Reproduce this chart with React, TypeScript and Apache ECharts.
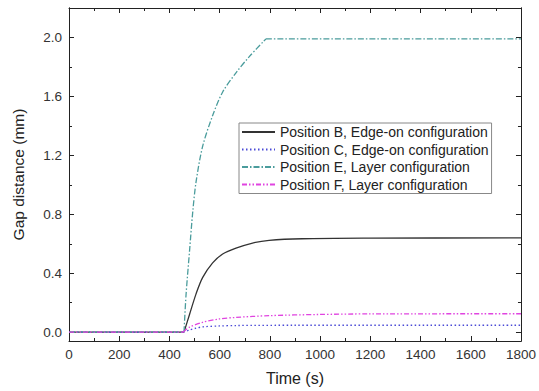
import React, { useEffect, useRef } from "react";
import * as echarts from "echarts";

const xTickLabels = [0, 200, 400, 600, 800, 1000, 1200, 1400, 1600, 1800];
const yMajorTicks = [0, 0.4, 0.8, 1.2, 1.6, 2.0];
const yMinorTicks = [0.2, 0.6, 1.0, 1.4, 1.8];

const seriesNames = [
  "Position B, Edge-on configuration",
  "Position C, Edge-on configuration",
  "Position E, Layer configuration",
  "Position F, Layer configuration",
];

const timeB = [0, 458, 480, 506, 532, 572, 612, 665, 731, 797, 929, 1193, 1800];
const gapB = [0, 0, 0.12, 0.26, 0.37, 0.47, 0.53, 0.57, 0.605, 0.623, 0.634, 0.638, 0.64];

const timeC = [0, 455, 480, 506, 532, 600, 665, 900, 1800];
const gapC = [0, 0, 0.015, 0.027, 0.036, 0.042, 0.045, 0.047, 0.047];

const timeE = [0, 458, 466, 480, 493, 506, 532, 572, 612, 665, 718, 784, 1800];
const gapE = [0, 0, 0.25, 0.55, 0.82, 1.02, 1.26, 1.47, 1.63, 1.76, 1.87, 1.99, 1.99];

const timeF = [0, 455, 480, 532, 599, 665, 797, 995, 1193, 1800];
const gapF = [0, 0, 0.034, 0.067, 0.09, 0.1, 0.112, 0.12, 0.124, 0.125];

// index where the rise begins and where it ends (sharp corners)
const riseB = [1, timeB.length - 1];
const riseC = [1, timeC.length - 1];
const riseE = [1, 11];
const riseF = [1, timeF.length - 1];

const pairs = (t: number[], v: number[]) => t.map((x, i) => [x, v[i]]);

export default function App() {
  const ref = useRef<HTMLDivElement>(null);
  useEffect(() => {
    if (!ref.current) return;
    const chart = echarts.init(ref.current, undefined, { renderer: "svg" });
    const font = "'Liberation Sans', Arial, sans-serif";
    const axisColor = "#222";
    const yBase = {
      type: "value",
      min: -0.06,
      max: 2.2,
      splitLine: { show: false },
      axisLine: { show: true, lineStyle: { color: axisColor, width: 1 } },
    };
    const xBase = {
      type: "value",
      min: 0,
      max: 1800,
      interval: 200,
      splitLine: { show: false },
      axisLine: { show: true, onZero: false, lineStyle: { color: axisColor, width: 1 } },
      axisTick: { show: true, inside: true, length: 5, lineStyle: { color: axisColor } },
      minorTick: { show: true, splitNumber: 2, length: 3, lineStyle: { color: axisColor } },
    };
    const build = (
      name: string,
      t: number[],
      v: number[],
      rise: number[],
      color: string,
      type: any,
      width: number
    ) => {
      const all = pairs(t, v);
      const parts = [
        { data: all.slice(0, rise[0] + 1), smooth: false },
        { data: all.slice(rise[0], rise[1] + 1), smooth: 0.3 },
        { data: all.slice(rise[1]), smooth: false },
      ].filter((p) => p.data.length > 1);
      return parts.map((p) => ({
        name,
        type: "line",
        data: p.data,
        symbol: "none",
        smooth: p.smooth,
        lineStyle: { color, type, width },
        itemStyle: { color },
      }));
    };
    chart.setOption({
      animation: false,
      backgroundColor: "#fff",
      grid: { left: 69, right: 16, top: 8, bottom: 47 },
      legend: {
        orient: "vertical",
        left: 239,
        top: 123,
        padding: [2, 3, 2, 2],
        itemWidth: 33,
        itemHeight: 14,
        itemGap: 3.5,
        itemStyle: { opacity: 0 },
        backgroundColor: "#fff",
        borderColor: "#888",
        borderWidth: 1,
        borderRadius: 0,
        textStyle: { fontFamily: font, fontSize: 14, color: "#222" },
        data: seriesNames,
      },
      xAxis: [
        {
          ...xBase,
          position: "bottom",
          name: "Time (s)",
          nameLocation: "middle",
          nameGap: 29,
          nameTextStyle: { fontFamily: font, fontSize: 16, color: "#222" },
          axisLabel: {
            show: true,
            margin: 6,
            fontFamily: font,
            fontSize: 13.5,
            color: "#333",
            formatter: (v: number) => (xTickLabels.includes(v) ? String(v) : ""),
          },
        },
        {
          ...xBase,
          position: "top",
          axisLabel: { show: false },
        },
      ],
      yAxis: [
        {
          ...yBase,
          position: "left",
          name: "Gap distance (mm)",
          nameLocation: "middle",
          nameGap: 43,
          nameTextStyle: { fontFamily: font, fontSize: 15.5, color: "#222" },
          axisTick: {
            show: true,
            inside: true,
            length: 5,
            customValues: yMajorTicks,
            lineStyle: { color: axisColor },
          },
          axisLabel: {
            show: true,
            margin: 7,
            fontFamily: font,
            fontSize: 13.5,
            color: "#333",
            customValues: yMajorTicks,
            formatter: (v: number) => v.toFixed(1),
          },
        },
        {
          ...yBase,
          position: "left",
          axisTick: {
            show: true,
            inside: true,
            length: 3,
            customValues: yMinorTicks,
            lineStyle: { color: axisColor },
          },
          axisLabel: { show: false },
        },
        {
          ...yBase,
          position: "right",
          axisTick: {
            show: true,
            inside: true,
            length: 5,
            customValues: yMajorTicks,
            lineStyle: { color: axisColor },
          },
          axisLabel: { show: false },
        },
        {
          ...yBase,
          position: "right",
          axisTick: {
            show: true,
            inside: true,
            length: 3,
            customValues: yMinorTicks,
            lineStyle: { color: axisColor },
          },
          axisLabel: { show: false },
        },
      ],
      series: [
        ...build(seriesNames[0], timeB, gapB, riseB, "#333333", "solid", 1.3),
        ...build(seriesNames[1], timeC, gapC, riseC, "#4a4ad6", [1.5, 2.5], 1.3),
        ...build(seriesNames[2], timeE, gapE, riseE, "#4a9c9c", [6, 2, 1.5, 2], 1.3),
        ...build(seriesNames[3], timeF, gapF, riseF, "#e044e0", [5, 2, 1.5, 2, 1.5, 2], 1.3),
      ],
    });
    return () => chart.dispose();
  }, []);
  return (
    <div
      ref={ref}
      style={{ position: "fixed", left: 0, top: 0, width: 539, height: 391 }}
    />
  );
}
